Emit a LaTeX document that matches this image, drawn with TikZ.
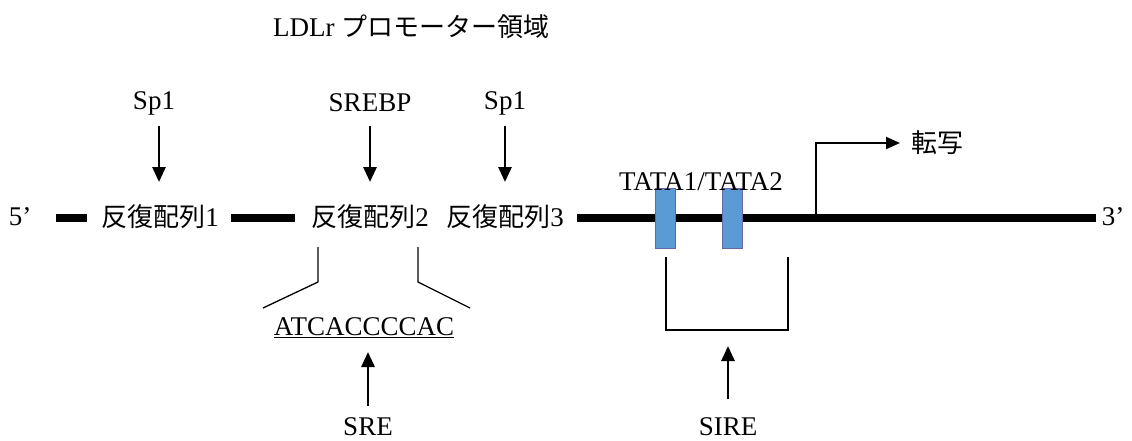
\documentclass[tikz,border=0pt]{standalone}
\usepackage{fontspec}
\setmainfont{Liberation Serif}
\newfontfamily\cjk{Noto Sans CJK JP}
\usetikzlibrary{arrows.meta}
\tikzset{
  lat/.style={font=\fontsize{27}{31}\selectfont, inner sep=0pt},
  dna/.style={line width=8pt},
  arr/.style={line width=2.8pt, -{Triangle[length=15pt,width=13pt]}},
  tx/.style={line width=2pt, -{Triangle[length=14pt,width=12pt]}},
  brk/.style={line width=1.3pt},
  tbox/.style={draw=blue!40!black!60, line width=0.6pt, fill={rgb,255:red,91;green,155;blue,213}, minimum width=20pt, minimum height=60pt, inner sep=0pt}
}
\newcommand{\jp}[1]{{\cjk\fontsize{26}{30}\selectfont #1}}
\begin{document}
\begin{tikzpicture}[x=1pt,y=-1pt]
\useasboundingbox (0,0) rectangle (1132,441);
% title
\node[lat, anchor=west] (title) at (273,27) {LDLr \jp{プロモーター領域}};
% top labels
\node[lat] (sp1a) at (154,103) {Sp1};
\node[lat] (srebp) at (370,103) {SREBP};
\node[lat] (sp1b) at (505,103) {Sp1};
% DNA row
\node[lat] (p5) at (20,217) {5’};
\node[lat] (r1) at (160,217) {\jp{反復配列}1};
\node[lat] (r2) at (370,217) {\jp{反復配列}2};
\node[lat] (r3) at (505,217) {\jp{反復配列}3};
\node[lat] (p3) at (1113,217) {3’};
\coordinate (d1a) at (56,217.5); \coordinate (d1b) at (87,217.5);
\coordinate (d2a) at (231,217.5); \coordinate (d2b) at (295,217.5);
\coordinate (d3a) at (577,217.5); \coordinate (d3b) at (1096,217.5);
\draw[dna] (d1a) -- (d1b);
\draw[dna] (d2a) -- (d2b);
\draw[dna] (d3a) -- (d3b);
% arrows from factors
\draw[arr] (159,126) -- (159,182);
\draw[arr] (srebp |- 0,126) -- (srebp |- 0,182);
\draw[arr] (sp1b |- 0,126) -- (sp1b |- 0,182);
% TATA boxes
\node[tbox] (tata1) at (665.5,218) {};
\node[tbox] (tata2) at (732,218) {};
\node[lat] (tatalbl) at (701,182) {TATA1/TATA2};
% transcription
\coordinate (tss) at (816,217.5);
\node[anchor=west] (zhuan) at (908,143) {\jp{転写}};
\draw[tx] (tss) |- ([xshift=-8pt]zhuan.west);
% SRE bracket
\draw[brk] (318,247) -- (318,282) -- (263,308);
\draw[brk] (418,247) -- (418,282) -- (470,308);
\node[lat] (seq) at (364,328) {\underline{ATCACCCCAC}};
\node[lat] (sre) at (368,427) {SRE};
\draw[arr] (sre |- 0,406) -- (368,352);
% SIRE bracket
\draw[brk] (666,257) -- (666,330) -- (788,330) -- (788,257);
\node[lat] (sire) at (728,427) {SIRE};
\draw[arr] (sire |- 0,399) -- (728,346);
\end{tikzpicture}
\end{document}
